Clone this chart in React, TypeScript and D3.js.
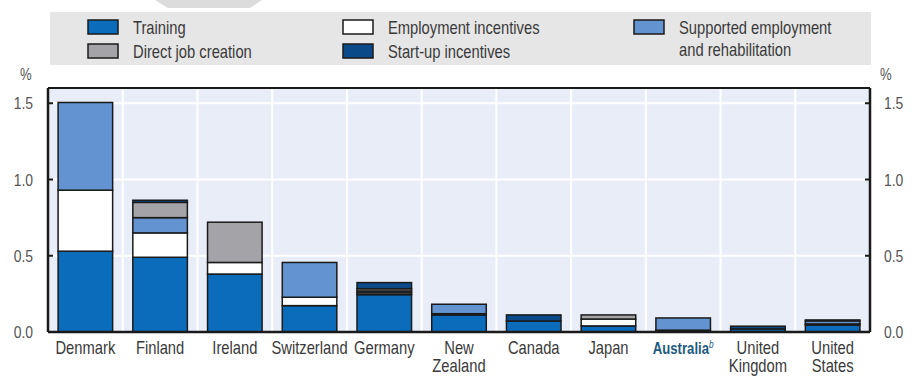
import React from "react";
import * as d3 from "d3";

const categories = ["Denmark", "Finland", "Ireland", "Switzerland", "Germany", "New Zealand", "Canada", "Japan", "Australia", "United Kingdom", "United States"];
const training = [0.53, 0.49, 0.38, 0.173, 0.245, 0.112, 0.072, 0.04, 0.012, 0.02, 0.045];
const employment = [0.40, 0.16, 0.076, 0.055, 0.012, 0.008, 0, 0.045, 0, 0, 0.008];
const supported = [0.575, 0.10, 0, 0.228, 0.012, 0.062, 0, 0, 0.08, 0, 0.02];
const direct = [0, 0.10, 0.264, 0, 0.015, 0, 0, 0.027, 0, 0, 0];
const startup = [0, 0.014, 0, 0, 0.04, 0, 0.04, 0, 0, 0.018, 0.006];
const yTicks = [0, 0.5, 1.0, 1.5];

const seriesKeys = ["training", "employment", "supported", "direct", "startup"];
const seriesColors: Record<string, string> = {
  training: "#0b6cbb",
  employment: "#ffffff",
  supported: "#6393d0",
  direct: "#a4a4a8",
  startup: "#0a4a88",
};

const FONT = "'Liberation Sans', Arial, sans-serif";
const SX = 0.82;

function NText(props: { x: number; y: number; anchor?: string; size: number; fill: string; weight?: string; children: any }) {
  const { x, y, anchor, size, fill, weight, children } = props;
  return (
    <text transform={`translate(${x},${y}) scale(${SX},1)`} textAnchor={anchor || "start"} fontSize={size} fill={fill} fontWeight={weight || "normal"}>
      {children}
    </text>
  );
}

export default function App() {
  const W = 914, H = 376;
  const left = 48, right = 870, top = 88, bottom = 332;

  const x = d3.scaleBand<string>().domain(categories).range([left, right]).paddingInner(0.27).paddingOuter(0.135);
  const xb = d3.scaleBand<string>().domain(categories).range([left, right]);
  const y = d3.scaleLinear().domain([0, 1.6]).range([bottom, top]);

  const table = categories.map((c, i) => ({
    cat: c,
    training: training[i],
    employment: employment[i],
    supported: supported[i],
    direct: direct[i],
    startup: startup[i],
  }));
  const stacked = d3.stack<any>().keys(seriesKeys)(table);

  const legendItems = [
    { key: "training", label: ["Training"], sx: 88, sy: 20 },
    { key: "direct", label: ["Direct job creation"], sx: 88, sy: 44 },
    { key: "employment", label: ["Employment incentives"], sx: 343, sy: 20 },
    { key: "startup", label: ["Start-up incentives"], sx: 343, sy: 44 },
    { key: "supported", label: ["Supported employment", "and rehabilitation"], sx: 634, sy: 20 },
  ];

  return (
    <svg width={W} height={H} style={{ display: "block", position: "absolute", left: 0, top: 0 }} fontFamily={FONT}>
      <rect x={0} y={0} width={W} height={H} fill="#ffffff" />
      <polygon points="155,0 262,0 250,8 168,8" fill="#dcdcdc" />
      {/* legend */}
      <rect x={50} y={12} width={821} height={53} fill="#e6e6e6" />
      {legendItems.map((it) => (
        <g key={it.key}>
          <rect x={it.sx} y={it.sy} width={30} height={14} fill={seriesColors[it.key]} stroke="#1a1a1a" strokeWidth={1.5} />
          {it.label.map((l, j) => (
            <NText key={j} x={it.sx + 45} y={it.sy + 14 + j * 22} size={18} fill="#3a3a3a">{l}</NText>
          ))}
        </g>
      ))}

      {/* plot background */}
      <rect x={left} y={top} width={right - left} height={bottom - top} fill="#e9edf8" />
      {yTicks.filter((t) => t > 0).map((t) => (
        <line key={t} x1={left} x2={right} y1={y(t)} y2={y(t)} stroke="#ffffff" strokeWidth={2} />
      ))}
      {categories.slice(1).map((c) => (
        <line key={c} x1={xb(c)!} x2={xb(c)!} y1={top} y2={bottom} stroke="#ffffff" strokeWidth={2} />
      ))}

      {/* bars */}
      {stacked.map((s) => (
        <g key={s.key}>
          {s.map((d, i) => {
            const v = d[1] - d[0];
            if (v <= 0) return null;
            return (
              <rect key={i} x={x(categories[i])!} y={y(d[1])} width={x.bandwidth()} height={y(d[0]) - y(d[1])}
                fill={seriesColors[s.key]} stroke="#1a1a1a" strokeWidth={1.5} />
            );
          })}
        </g>
      ))}

      {/* frame */}
      <line x1={left} x2={right} y1={top} y2={top} stroke="#1a1a1a" strokeWidth={2} />
      <line x1={left} x2={right} y1={bottom} y2={bottom} stroke="#1a1a1a" strokeWidth={2.5} />
      <line x1={left} x2={left} y1={top} y2={bottom} stroke="#1a1a1a" strokeWidth={2.5} />
      <line x1={right} x2={right} y1={top} y2={bottom} stroke="#1a1a1a" strokeWidth={2.5} />
      {yTicks.filter((t) => t > 0).map((t) => (
        <g key={t}>
          <line x1={left} x2={left + 5} y1={y(t)} y2={y(t)} stroke="#1a1a1a" strokeWidth={2} />
          <line x1={right - 5} x2={right} y1={y(t)} y2={y(t)} stroke="#1a1a1a" strokeWidth={2} />
        </g>
      ))}

      {/* y tick labels */}
      {yTicks.map((t) => (
        <g key={t}>
          <NText x={33} y={y(t) + 6} anchor="end" size={17} fill="#555">{d3.format(".1f")(t)}</NText>
          <NText x={884} y={y(t) + 6} size={17} fill="#555">{d3.format(".1f")(t)}</NText>
        </g>
      ))}
      <NText x={20} y={80} size={16} fill="#555">%</NText>
      <NText x={880} y={80} size={16} fill="#555">%</NText>

      {/* x labels */}
      {categories.map((c) => {
        const cx = x(c)! + x.bandwidth() / 2;
        if (c === "Australia") {
          return (
            <NText key={c} x={cx} y={354} anchor="middle" size={16} weight="bold" fill="#1d5a80">
              Australia<tspan fontSize={10} dy={-6} fontWeight="normal" fontStyle="italic">b</tspan>
            </NText>
          );
        }
        const parts = c.split(" ");
        return (
          <NText key={c} x={cx} y={354} anchor="middle" size={18} fill="#3a3a3a">
            {parts.map((p, j) => (
              <tspan key={j} x={0} dy={j === 0 ? 0 : 18}>{p}</tspan>
            ))}
          </NText>
        );
      })}
    </svg>
  );
}
